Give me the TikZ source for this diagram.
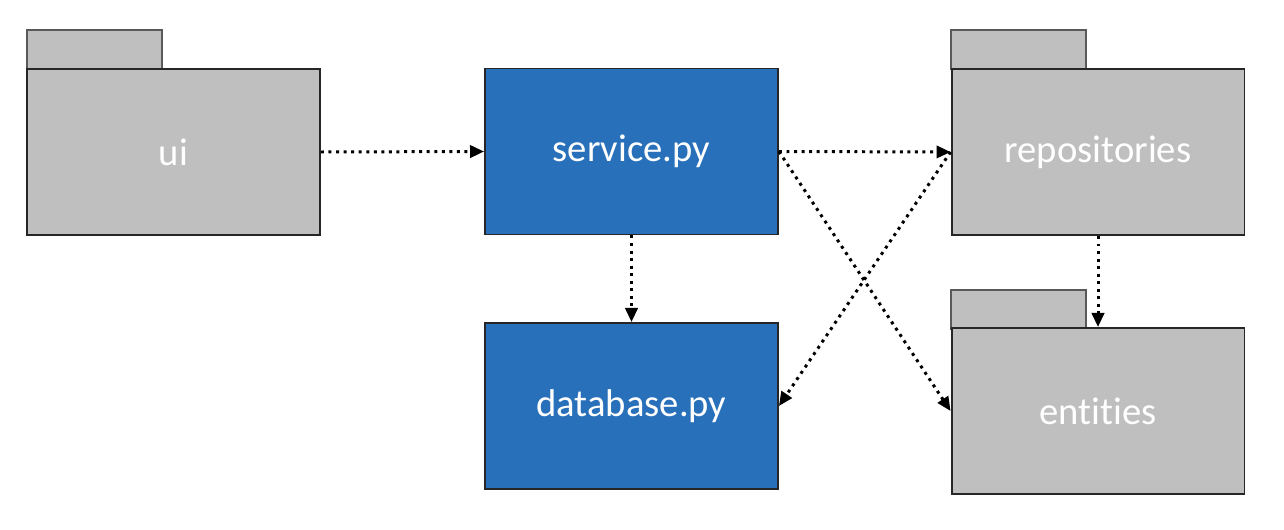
\documentclass[tikz,border=0pt]{standalone}
\usepackage{fontspec}
\setmainfont[Ligatures={NoCommon}]{Carlito}
\usepackage{tikz}
\usetikzlibrary{arrows.meta}
\definecolor{modblue}{RGB}{40,112,186}
\definecolor{pkggray}{RGB}{191,191,191}
\definecolor{edgedark}{RGB}{38,38,38}
\definecolor{tabedge}{RGB}{89,89,89}

\tikzset{
  pkg/.style={draw=edgedark,fill=pkggray,line width=1.1pt,minimum width=5.86cm,minimum height=3.32cm,
    text=white,font=\fontsize{22}{26}\selectfont,inner sep=0pt},
  pkgtab/.style={draw=tabedge,fill=pkggray,line width=1.1pt,minimum width=2.7cm,minimum height=0.78cm,inner sep=0pt},
  modbox/.style={pkg,fill=modblue},
  dep/.style={-{Triangle[length=8pt,width=7pt]},line width=1.7pt,dash pattern=on 1.7pt off 2.6pt}
}

\begin{document}
\begin{tikzpicture}[x=0.02cm,y=-0.02cm]
      \useasboundingbox (0,0) rectangle (1284,530);

      % folders
      \node (uitab) at (94.5,49.5) [pkgtab] {};
      \node (ui) at (173.5,152) [pkg] {ui};

      \node (repotab) at (1018.5,49.5) [pkgtab] {};
      \node (repo) at (1098,152) [pkg] {repositories};

      \node (enttab) at (1018.5,309.5) [pkgtab] {};
      \node (ent) at (1098,411) [pkg] {entities};

      % modules
      \node (serv) at (631.5,151.5) [modbox] {service.py};
      \node (db) at (631.5,406) [modbox] {database.py};

      % dependencies
      \draw[dep] (ui.east) -- (serv.west);
      \draw[dep] (serv.east) -- (repo.west);
      \draw[dep] (serv.east) -- (ent.west);
      \draw[dep] (repo.west) -- (db.east);
      \draw[dep] (serv.south) -- (db.north);
      \draw[dep] (repo.south) -- (ent.north);

    \end{tikzpicture}
\end{document}
